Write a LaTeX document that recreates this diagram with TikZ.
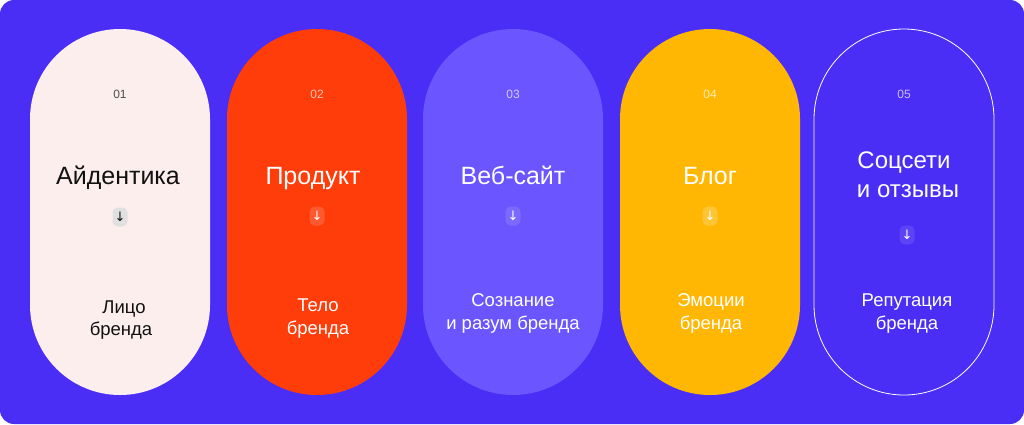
\documentclass[tikz,border=0pt]{standalone}
\usepackage{fontspec}
\setmainfont{Liberation Sans}
\newfontfamily\symfont{DejaVu Sans}
\usetikzlibrary{shapes.misc}
\definecolor{bgc}{HTML}{4A2EF5}
\definecolor{pinkc}{HTML}{FDEEEE}
\definecolor{redc}{HTML}{FF3D0B}
\definecolor{violc}{HTML}{6B55FF}
\definecolor{yelc}{HTML}{FFB703}
\definecolor{darktxt}{HTML}{111111}
\tikzset{
  pill/.style={rounded rectangle, rotate=90, minimum width=366pt, minimum height=180pt, inner sep=0pt},
  numlbl/.style={anchor=base, font=\fontsize{12}{13}\selectfont, inner sep=0pt},
  title/.style={anchor=base, font=\fontsize{25}{29}\selectfont, inner sep=0pt},
  sub/.style={anchor=base, font=\fontsize{18.5}{22}\selectfont, inner sep=0pt},
  arrbox/.style={minimum width=15pt, minimum height=19pt, rounded corners=5pt, inner sep=0pt, font=\symfont\fontsize{13}{13}\selectfont},
}
\begin{document}
\begin{tikzpicture}[x=1pt,y=-1pt]
\useasboundingbox (0,0) rectangle (1024,424);
\fill[bgc, rounded corners=14pt] (0,0) rectangle (1024,424);
% pills
\node[pill, fill=pinkc] (p1) at (120,212) {};
\node[pill, fill=redc] (p2) at (317,212) {};
\node[pill, fill=violc] (p3) at (513,212) {};
\node[pill, fill=yelc] (p4) at (710,212) {};
\node[pill, draw=white, line width=0.8pt] (p5) at (904,212) {};
% numbers
\node[numlbl, text=darktxt!75] (n1) at (120,98) {01};
\node[numlbl, text=white, opacity=0.7] (n2) at (317,98) {02};
\node[numlbl, text=white, opacity=0.7] (n3) at (513,98) {03};
\node[numlbl, text=white, opacity=0.7] (n4) at (710,98) {04};
\node[numlbl, text=white, opacity=0.7] (n5) at (904,98) {05};
% titles
\node[title, text=darktxt] (t1) at (118,184) {Айдентика};
\node[title, text=white] (t2) at (313,184) {Продукт};
\node[title, text=white] (t3) at (513,184) {Веб-сайт};
\node[title, text=white] (t4) at (710,184) {Блог};
\node[title, text=white, font=\fontsize{24}{29}\selectfont] (t5a) at (904,168) {Соцсети};
\node[title, text=white, font=\fontsize{24}{29}\selectfont] (t5b) at (908,197) {и отзывы};
% arrows
\node[arrbox, fill=black!12, text=darktxt] (a1) at (120,217) {↓};
\node[arrbox, fill=white, fill opacity=0.15, text opacity=1, text=white] (a2) at (317,216) {↓};
\node[arrbox, fill=white, fill opacity=0.12, text opacity=1, text=white] (a3) at (513,216) {↓};
\node[arrbox, fill=white, fill opacity=0.2, text opacity=1, text=white] (a4) at (710,216) {↓};
\node[arrbox, fill=white, fill opacity=0.1, text opacity=1, text=white] (a5) at (907,235) {↓};
% subtitles
\node[sub, text=darktxt] (s1a) at (124,313) {Лицо};
\node[sub, text=darktxt] (s1b) at (121,335) {бренда};
\node[sub, text=white] (s2a) at (318,311) {Тело};
\node[sub, text=white] (s2b) at (318,334) {бренда};
\node[sub, text=white] (s3a) at (513,306) {Сознание};
\node[sub, text=white] (s3b) at (513,329) {и разум бренда};
\node[sub, text=white] (s4a) at (711,306) {Эмоции};
\node[sub, text=white] (s4b) at (711,329) {бренда};
\node[sub, text=white] (s5a) at (907,306) {Репутация};
\node[sub, text=white] (s5b) at (907,329) {бренда};
\end{tikzpicture}
\end{document}
